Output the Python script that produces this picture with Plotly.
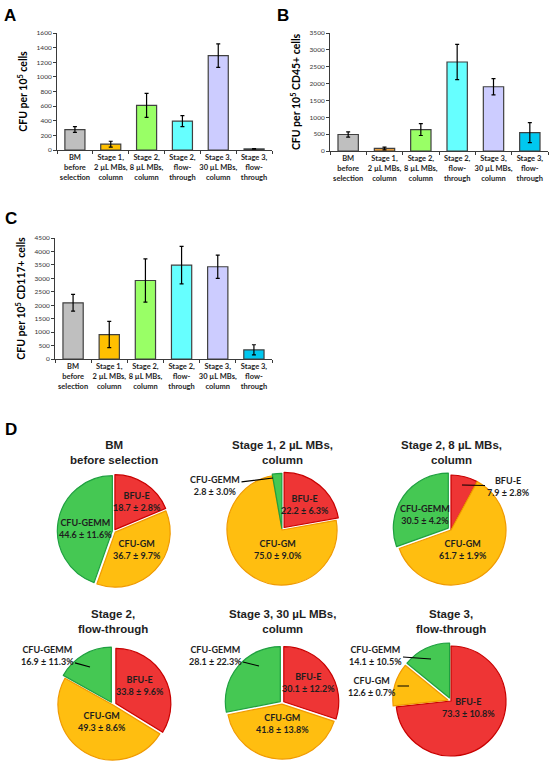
import plotly.graph_objects as go

W, H = 550, 765

stages = ["BM<br>before<br>selection", "Stage 1,<br>2 µL MBs,<br>column", "Stage 2,<br>8 µL MBs,<br>column",
          "Stage 2,<br>flow-<br>through", "Stage 3,<br>30 µL MBs,<br>column", "Stage 3,<br>flow-<br>through"]

# CFU counts (mean, error) per panel
cfu_per_cells = [280, 80, 610, 395, 1290, 15]
cfu_per_cells_err = [40, 40, 165, 75, 160, 5]
cfu_per_cd45 = [490, 75, 635, 2640, 1905, 545]
cfu_per_cd45_err = [80, 40, 175, 520, 240, 295]
cfu_per_cd117 = [2090, 910, 2920, 3490, 3430, 340]
cfu_per_cd117_err = [310, 490, 805, 695, 435, 190]

# colony type composition (%) per stage
pie_titles = ["BM<br>before selection", "Stage 1, 2 µL MBs,<br>column", "Stage 2, 8 µL MBs,<br>column",
              "Stage 2,<br>flow-through", "Stage 3, 30 µL MBs,<br>column", "Stage 3,<br>flow-through"]
colony_types = ["BFU-E", "CFU-GM", "CFU-GEMM"]
bfu_e_pct = [18.7, 22.2, 7.9, 33.8, 30.1, 73.3]
bfu_e_sd = [2.8, 6.3, 2.8, 9.6, 12.2, 10.8]
cfu_gm_pct = [36.7, 75.0, 61.7, 49.3, 41.8, 12.6]
cfu_gm_sd = [9.7, 9.0, 1.9, 8.6, 13.8, 0.7]
cfu_gemm_pct = [44.6, 2.8, 30.5, 16.9, 28.1, 14.1]
cfu_gemm_sd = [11.6, 3.0, 4.2, 11.3, 22.3, 10.5]

BODY = "Lato"
HEAD = "Liberation Sans"
DARK = "#1e1e1e"


def px_x(p):
    return p / W


def px_y(p):
    return 1 - p / H


fig = go.Figure()

# bar panels: axis suffix, x px span, y px (zero, top), y max, tick step, title, values, errors, colours
bar_panels = [
    ("", (57, 272), (150, 33), 1600, 200, "CFU per 10<sup>5</sup> cells",
     cfu_per_cells, cfu_per_cells_err,
     ["#BFBFBF", "#FFC000", "#99FF66", "#66FFFF", "#CCCCFF", "#00C8F0"]),
    ("2", (330, 548), (151, 33), 3500, 500, "CFU per 10<sup>5</sup> CD45+ cells",
     cfu_per_cd45, cfu_per_cd45_err,
     ["#BFBFBF", "#E8A040", "#99FF66", "#66FFFF", "#CCCCFF", "#00C8F0"]),
    ("3", (55, 272), (359, 238), 4500, 500, "CFU per 10<sup>5</sup> CD117+ cells",
     cfu_per_cd117, cfu_per_cd117_err,
     ["#BFBFBF", "#FFC000", "#99FF66", "#66FFFF", "#CCCCFF", "#00C8F0"]),
]

axis_common = dict(showline=True, linecolor="#3a3a3a", linewidth=1, ticks="outside", automargin=False,
                   ticklen=3, tickcolor="#3a3a3a", showgrid=False, zeroline=False)

for suffix, xs, ys, ymax, step, title, vals, errs, cols in bar_panels:
    fig.add_trace(go.Bar(
        x=stages, y=vals,
        xaxis="x" + suffix, yaxis="y" + suffix,
        marker=dict(color=cols, line=dict(color="#404040", width=1.2)),
        error_y=dict(type="data", array=errs, color="black", thickness=1.2, width=2),
        width=0.56,
    ))
    fig.update_layout(**{
        "xaxis" + suffix: dict(
            domain=[px_x(xs[0]), px_x(xs[1])], anchor="y" + suffix, tickangle=0,
            tickson="boundaries", tickfont=dict(family=BODY, size=7.5, color=DARK, weight=700),
            **axis_common),
        "yaxis" + suffix: dict(
            domain=[px_y(ys[0]), px_y(ys[1])], anchor="x" + suffix,
            range=[0, ymax], dtick=step,
            tickfont=dict(family=BODY, size=6.5, color="#333"),
            title=dict(text=title, standoff=6, font=dict(family=BODY, size=10.5, color="black", weight=700)),
            **axis_common),
    })

# pies
pie_pos = [(114, 531), (282, 530), (451, 530), (113, 705), (282, 703), (451, 701)]
title_y = [452, 452, 452, 621, 621, 621]
pie_pulls = [[0.03, 0.03, 0.03], [0.06, 0.0, 0.03], [0.0, 0.0, 0.06],
             [0.06, 0.0, 0.06], [0.04, 0.02, 0.04], [0.0, 0.06, 0.06]]
R = 55
slice_fill = ["#EE3535", "#FFBE10", "#45C853"]
slice_line = ["#C80000", "#F09A00", "#1FA040"]
pct_lists = [bfu_e_pct, cfu_gm_pct, cfu_gemm_pct]
sd_lists = [bfu_e_sd, cfu_gm_sd, cfu_gemm_sd]

for i in range(6):
    cx, cy = pie_pos[i]
    half = R * (1 + max(pie_pulls[i]))
    fig.add_trace(go.Pie(
        labels=colony_types, values=[p[i] for p in pct_lists],
        sort=False, direction="clockwise", rotation=0,
        pull=pie_pulls[i], textinfo="none", hoverinfo="label+percent",
        marker=dict(colors=slice_fill, line=dict(color=slice_line, width=1.2)),
        domain=dict(x=[px_x(cx - half), px_x(cx + half)], y=[px_y(cy + half), px_y(cy - half)]),
    ))
    fig.add_annotation(x=px_x(cx), y=px_y(title_y[i]), xref="paper", yref="paper",
                       xanchor="center", yanchor="middle",
                       text=f"<b>{pie_titles[i]}</b>", showarrow=False,
                       font=dict(family=HEAD, size=11.5, color=DARK))

# slice labels: pie index, slice index, text centre px, leader tip px (None = inside label)
slice_labels = [
    (0, 0, (137, 501), None), (0, 1, (137, 549), None), (0, 2, (85, 528), None),
    (1, 0, (305, 504), None), (1, 1, (278, 549), None), (1, 2, (215, 485), (273, 478)),
    (2, 0, (508, 486), (462, 485)), (2, 1, (463, 549), None), (2, 2, (425, 514), None),
    (3, 0, (140, 685), None), (3, 1, (102, 721), None), (3, 2, (47, 655), (90, 667)),
    (4, 0, (308, 682), None), (4, 1, (282, 723), None), (4, 2, (215, 655), (259, 666)),
    (5, 0, (468, 707), None), (5, 1, (372, 686), (409, 686)), (5, 2, (375, 655), (431, 659)),
]
for pi, si, (tx, ty), tip in slice_labels:
    label = f"<b>{colony_types[si]}</b><br><b>{pct_lists[si][pi]:.1f} ± {sd_lists[si][pi]:.1f}%</b>"
    font = dict(family=BODY, size=9, color=DARK)
    if tip is None:
        fig.add_annotation(x=px_x(tx), y=px_y(ty), xref="paper", yref="paper", text=label,
                           xanchor="center", yanchor="middle", showarrow=False, font=font)
    else:
        fig.add_annotation(x=px_x(tip[0]), y=px_y(tip[1]), xref="paper", yref="paper",
                           ax=tx - tip[0], ay=ty - tip[1], showarrow=True, arrowhead=0,
                           arrowwidth=1.2, arrowcolor="black", text=label, font=font)

# panel letters
for letter, (lx, ly) in zip("ABCD", [(10, 15), (283, 15), (11, 218), (11, 429)]):
    fig.add_annotation(x=px_x(lx), y=px_y(ly), xref="paper", yref="paper", text=f"<b>{letter}</b>",
                       xanchor="center", yanchor="middle",
                       showarrow=False, font=dict(family=HEAD, size=17, color="black"))

fig.update_layout(width=W, height=H, margin=dict(l=0, r=0, t=0, b=0, autoexpand=False),
                  paper_bgcolor="white", plot_bgcolor="white", showlegend=False,
                  bargap=0.44)

# drop the browser's default body margin so the figure sits at the page origin
fig.write_html("out.html", config={"displayModeBar": False},
               post_script="document.body.style.margin='0px';")
